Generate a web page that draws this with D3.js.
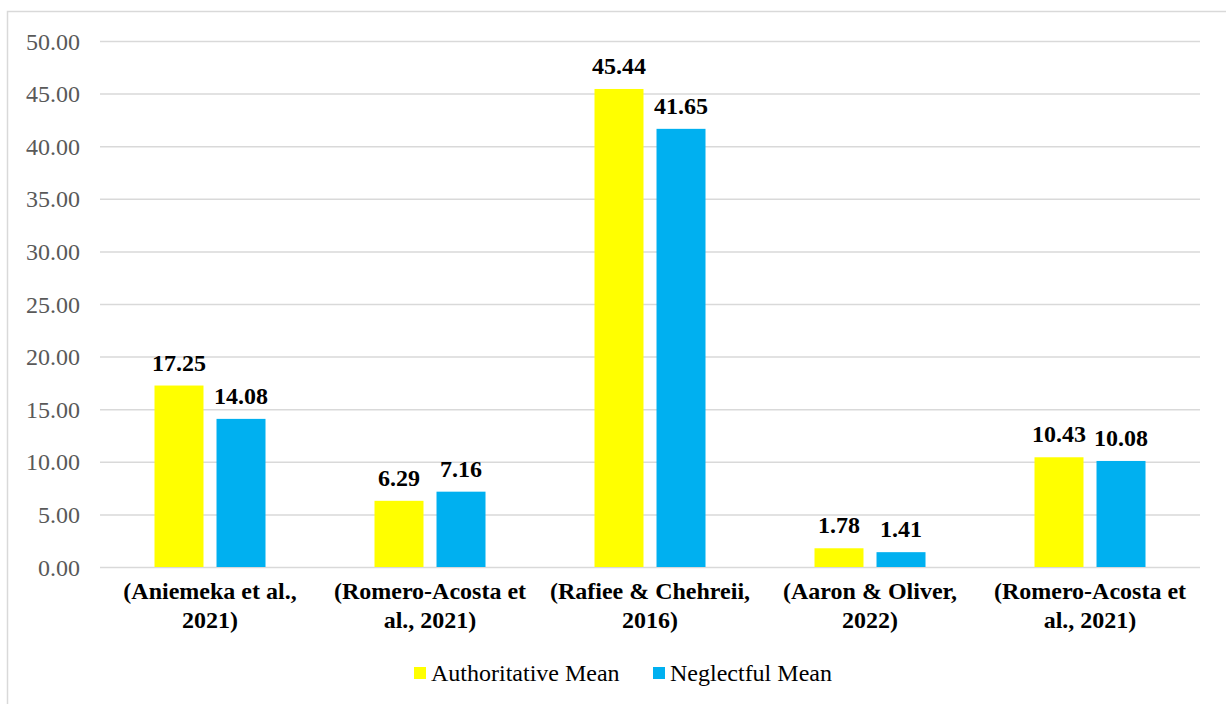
<!DOCTYPE html>
<html>
<head>
<meta charset="utf-8">
<script src="https://cdn.jsdelivr.net/npm/d3@7"></script>
<style>
  body { margin: 0; background: #fff; }
  svg text { font-family: "Liberation Serif", "Times New Roman", serif; }
</style>
</head>
<body>
<div id="chart"></div>
<script>
// chart data
const categories = [
  ["(Aniemeka et al.,", "2021)"],
  ["(Romero-Acosta et", "al., 2021)"],
  ["(Rafiee & Chehreii,", "2016)"],
  ["(Aaron & Oliver,", "2022)"],
  ["(Romero-Acosta et", "al., 2021)"]
];
const seriesNames = ["Authoritative Mean", "Neglectful Mean"];
const authoritative = [17.25, 6.29, 45.44, 1.78, 10.43];
const neglectful = [14.08, 7.16, 41.65, 1.41, 10.08];
const yTicks = [0, 5, 10, 15, 20, 25, 30, 35, 40, 45, 50];
const colors = ["#FFFF00", "#00B0F0"];

const FS = 24;
const W = 1226, H = 704;
const margin = { top: 41, right: 26, bottom: 137, left: 100 };
const width = W - margin.left - margin.right;
const height = H - margin.top - margin.bottom;

const svg = d3.select("#chart").append("svg")
  .attr("width", W)
  .attr("height", H);

// outer frame (runs off the right and bottom edges)
svg.append("rect")
  .attr("x", 7.5).attr("y", 11.5)
  .attr("width", W + 20).attr("height", H + 20)
  .attr("fill", "#fff")
  .attr("stroke", "#d9d9d9")
  .attr("stroke-width", 1.5);

const g = svg.append("g")
  .attr("transform", `translate(${margin.left},${margin.top})`);

const idx = d3.range(categories.length);
const x = d3.scaleBand().domain(idx).range([0, width]).paddingInner(0).paddingOuter(0);
const xSub = d3.scaleBand().domain([0, 1]).range([54.5, x.bandwidth() - 54.5]).paddingInner(0.21);
const y = d3.scaleLinear().domain([0, 50]).range([height, 0]);

// gridlines + y labels
const yAxis = g.append("g")
  .call(d3.axisLeft(y).tickValues(yTicks).tickFormat(d3.format(".2f")).tickSize(-width).tickPadding(20));
yAxis.select(".domain").remove();
yAxis.selectAll(".tick line").attr("stroke", "#d9d9d9").attr("stroke-width", 1.5);
yAxis.selectAll(".tick text")
  .attr("fill", "#595959")
  .attr("font-size", FS)
  .attr("dy", "0.34em");

const series = [authoritative, neglectful];
series.forEach((vals, s) => {
  const grp = g.append("g");
  grp.selectAll("rect").data(idx).enter().append("rect")
    .attr("x", i => x(i) + xSub(s))
    .attr("width", xSub.bandwidth())
    .attr("y", i => y(vals[i]))
    .attr("height", i => y(0) - y(vals[i]))
    .attr("fill", colors[s]);
  grp.selectAll("text").data(idx).enter().append("text")
    .attr("x", i => x(i) + xSub(s) + xSub.bandwidth() / 2)
    .attr("y", i => y(vals[i]) - 15)
    .attr("text-anchor", "middle")
    .attr("font-size", FS)
    .attr("font-weight", "bold")
    .attr("fill", "#000")
    .text(i => vals[i].toFixed(2));
});

// category labels
const cat = g.append("g").selectAll("text").data(idx).enter().append("text")
  .attr("x", i => x(i) + x.bandwidth() / 2)
  .attr("y", height + 32)
  .attr("text-anchor", "middle")
  .attr("font-size", FS)
  .attr("font-weight", "bold")
  .attr("fill", "#000");
cat.append("tspan").attr("x", i => x(i) + x.bandwidth() / 2).text(i => categories[i][0]);
cat.append("tspan").attr("x", i => x(i) + x.bandwidth() / 2).attr("dy", 29).text(i => categories[i][1]);

// legend
const legend = svg.append("g");
const legendX = [414, 653];
seriesNames.forEach((name, s) => {
  legend.append("rect")
    .attr("x", legendX[s]).attr("y", 667)
    .attr("width", 12).attr("height", 12)
    .attr("fill", colors[s]);
  legend.append("text")
    .attr("x", legendX[s] + 17).attr("y", 681)
    .attr("font-size", FS)
    .attr("fill", "#000")
    .text(name);
});
</script>
</body>
</html>
